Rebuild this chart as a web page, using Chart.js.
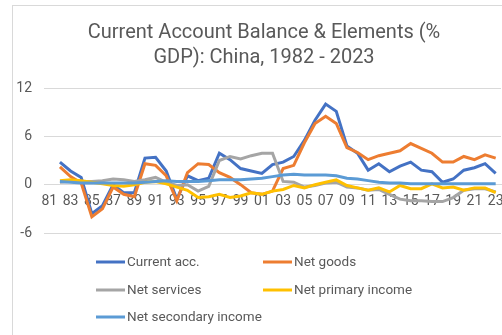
<!DOCTYPE html>
<html>
<head>
<meta charset="utf-8">
<script src="https://cdn.jsdelivr.net/npm/chart.js@4"></script>
<style>
  html, body { margin: 0; padding: 0; background: #fff; overflow: hidden; }
  #frame {
    position: absolute; left: 12px; top: 5px;
    width: 506px; height: 345px;
    border: 1px solid #d9d9d9; background: #fff;
  }
  #myChart { display: block; }
</style>
</head>
<body>
<div id="frame"><canvas id="myChart" width="506" height="329"></canvas></div>
<script>
const years = ['81', '82', '83', '84', '85', '86', '87', '88', '89', '90', '91', '92', '93', '94', '95', '96', '97', '98', '99',
    '00', '01', '02', '03', '04', '05', '06', '07', '08', '09', '10', '11', '12', '13', '14', '15', '16', '17', '18', '19', '20', '21', '22', '23'];

const currentAcc = [null, 2.8, 1.7, 0.9, -3.6, -2.6, 0.0, -1.0, -1.0, 3.3, 3.4, 1.7, -1.8, 1.1, 0.5, 0.8, 3.9, 3.1, 2.0,
    1.7, 1.4, 2.5, 2.8, 3.5, 5.5, 8.0, 10.0, 9.1, 4.8, 3.9, 1.8, 2.6, 1.6, 2.3, 2.8, 1.8, 1.6, 0.3, 0.7, 1.8, 2.1, 2.6, 1.4];
const netGoods = [null, 2.2, 1.0, 0.2, -4.0, -3.0, -0.3, -1.2, -1.5, 2.6, 2.4, 1.1, -2.0, 1.5, 2.6, 2.5, 1.5, 0.9, 0.0,
    -1.0, -1.2, -0.8, 2.0, 2.4, 5.2, 7.6, 8.5, 7.6, 4.6, 4.0, 3.1, 3.6, 3.9, 4.2, 5.1, 4.5, 3.9, 2.8, 2.8, 3.5, 3.1, 3.7, 3.3];
const netServices = [null, 0.3, 0.4, 0.4, 0.4, 0.5, 0.7, 0.6, 0.4, 0.6, 0.9, 0.3, -0.1, 0.0, -0.8, -0.2, 3.0, 3.5, 3.2,
    3.6, 3.9, 3.9, 0.4, 0.3, -0.3, -0.1, 0.2, 0.3, -0.3, -0.4, -0.7, -0.6, -1.2, -1.8, -2.0, -2.0, -2.1, -2.1, -1.6, -0.7, -0.5, -0.5, -0.9];
const netPrimary = [null, 0.5, 0.6, 0.5, 0.3, 0.1, -0.1, -0.2, 0.0, 0.3, 0.4, 0.1, -0.3, -0.7, -1.6, -1.5, -1.2, -1.6, -1.4,
    -1.0, -1.2, -0.8, -0.6, -0.1, -0.4, 0.0, 0.3, 0.6, -0.1, -0.4, -0.7, -0.4, -0.9, -0.1, -0.5, -0.5, 0.1, -0.4, -0.3, -0.7, -0.4, -0.4, -1.0];
const netSecondary = [null, 0.4, 0.3, 0.2, 0.2, 0.2, 0.2, 0.2, 0.2, 0.3, 0.4, 0.5, 0.4, 0.4, 0.4, 0.5, 0.6, 0.6, 0.6,
    0.7, 0.8, 1.0, 1.2, 1.3, 1.2, 1.2, 1.2, 1.1, 0.8, 0.7, 0.5, 0.3, 0.2, 0.2, 0.1, 0.1, 0.1, 0.1, 0.1, 0.1, 0.1, 0.1, 0.1];

const yTicks = [-6, 0, 6, 12];

const textColor = '#595959';
const gridColor = '#d9d9d9';

function series(label, values, color, order) {
    return {
        label: label,
        data: values,
        yAxisID: 'y',
        borderColor: color,
        backgroundColor: color,
        borderWidth: 3,
        pointRadius: 0,
        tension: 0,
        fill: false,
        order: order,
    };
}

// two-column legend under the plot
const gridLegend = {
    id: 'gridLegend',
    afterDraw: (chart) => {
        const ctx = chart.ctx;
        const colX = [83, 250];
        const rowY = [256, 284, 311];
        ctx.save();
        ctx.font = '13.5px Roboto';
        ctx.fillStyle = textColor;
        ctx.textBaseline = 'middle';
        chart.data.datasets.forEach((ds, i) => {
            const x = colX[i % 2];
            const y = rowY[Math.floor(i / 2)];
            ctx.beginPath();
            ctx.moveTo(x, y);
            ctx.lineTo(x + 29, y);
            ctx.lineWidth = 3;
            ctx.strokeStyle = ds.borderColor;
            ctx.stroke();
            ctx.fillText(ds.label, x + 31, y + 1);
        });
        ctx.restore();
    },
};

const config = {
    type: 'line',
    data: {
        labels: years,
        datasets: [
            series('Current acc.', currentAcc, '#4472c4', 4),
            series('Net goods', netGoods, '#ed7d31', 3),
            series('Net services', netServices, '#a5a5a5', 2),
            series('Net primary income', netPrimary, '#ffc000', 1),
            series('Net secondary income', netSecondary, '#5b9bd5', 0),
        ],
    },
    options: {
        responsive: false,
        animation: false,
        layout: {
            padding: { left: 0, right: 4, top: 0, bottom: 102 },
        },
        scales: {
            x: {
                type: 'category',
                position: { y: 0 },
                offset: true,
                grid: { display: false, drawTicks: false },
                border: { display: true, color: gridColor, width: 1 },
                ticks: {
                    autoSkip: false,
                    maxRotation: 0,
                    padding: 8,
                    color: textColor,
                    font: { family: 'Roboto', size: 14 },
                    callback: (value, index) => (index % 2 === 0 ? years[index] : ''),
                },
            },
            y: {
                position: 'left',
                min: -6,
                max: 12,
                afterFit: (scale) => {
                    scale.width = 31;
                },
                afterBuildTicks: (scale) => {
                    scale.ticks = yTicks.map((v) => ({ value: v }));
                },
                grid: { color: gridColor, drawTicks: false },
                border: { display: false },
                ticks: {
                    padding: 12,
                    color: textColor,
                    font: { family: 'Roboto', size: 14 },
                },
            },
            // empty strip on the right so the plot stops short of the title box
            yRight: {
                position: 'right',
                grid: { display: false, drawTicks: false },
                border: { display: false },
                ticks: { display: false },
                afterFit: (scale) => {
                    scale.width = 14;
                },
            },
        },
        plugins: {
            legend: { display: false },
            tooltip: { enabled: false },
            title: {
                display: true,
                text: ['Current Account Balance & Elements (%', 'GDP): China, 1982 - 2023'],
                color: textColor,
                font: { family: 'Roboto', size: 20, weight: 'normal', lineHeight: 1.25 },
                padding: { top: 14, bottom: 18 },
            },
        },
    },
    plugins: [gridLegend],
};

const myChart = new Chart(document.getElementById('myChart'), config);
</script>
</body>
</html>
